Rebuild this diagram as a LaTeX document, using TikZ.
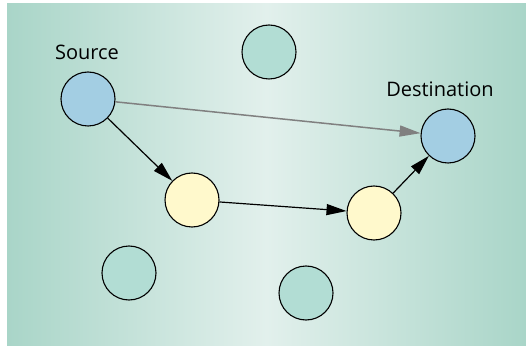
\documentclass[tikz,border=0pt]{standalone}
\usepackage{fontspec}
\setmainfont{Open Sans}
\usetikzlibrary{arrows.meta}
\definecolor{bgedge}{HTML}{A9D5C8}
\definecolor{bgmid}{HTML}{E2F0EC}
\definecolor{tealfill}{HTML}{B2DDD4}
\definecolor{bluefill}{HTML}{A3CEE3}
\definecolor{yellowfill}{HTML}{FFF9CC}
\definecolor{grayline}{HTML}{808080}
\tikzset{
  netnode/.style={circle, draw=black, line width=1.1pt, minimum size=54pt, inner sep=0pt},
  idle/.style={netnode, fill=tealfill},
  endpt/.style={netnode, fill=bluefill},
  hop/.style={netnode, fill=yellowfill},
  lbl/.style={font=\fontsize{20}{24}\selectfont, text=black, inner sep=0pt},
  pathedge/.style={line width=1.2pt, draw=black, -{Triangle[length=20pt,width=11pt]}},
  directedge/.style={line width=1.5pt, draw=grayline, -{Triangle[length=21pt,width=11pt]}},
}
\begin{document}
\begin{tikzpicture}[x=1pt,y=-1pt]
\useasboundingbox (0,0) rectangle (526,352);
\fill[white] (0,0) rectangle (526,352);
\shade[left color=bgedge, right color=bgedge, middle color=bgmid] (7,4) rectangle (526,345);
\node[idle] (n1) at (269,52) {};
\node[idle] (n2) at (129,273) {};
\node[idle] (n3) at (306,293) {};
\node[endpt] (src) at (88,99) {};
\node[endpt] (dst) at (448,136) {};
\node[hop] (h1) at (192,200) {};
\node[hop] (h2) at (374,213) {};
\node[lbl] (srclbl) at (87,52) {Source};
\node[lbl] (dstlbl) at (440,89) {Destination};
\draw[directedge] (src) -- (dst);
\draw[pathedge] (src) -- (h1);
\draw[pathedge] (h1) -- (h2);
\draw[pathedge] (h2) -- (dst);
\end{tikzpicture}
\end{document}
